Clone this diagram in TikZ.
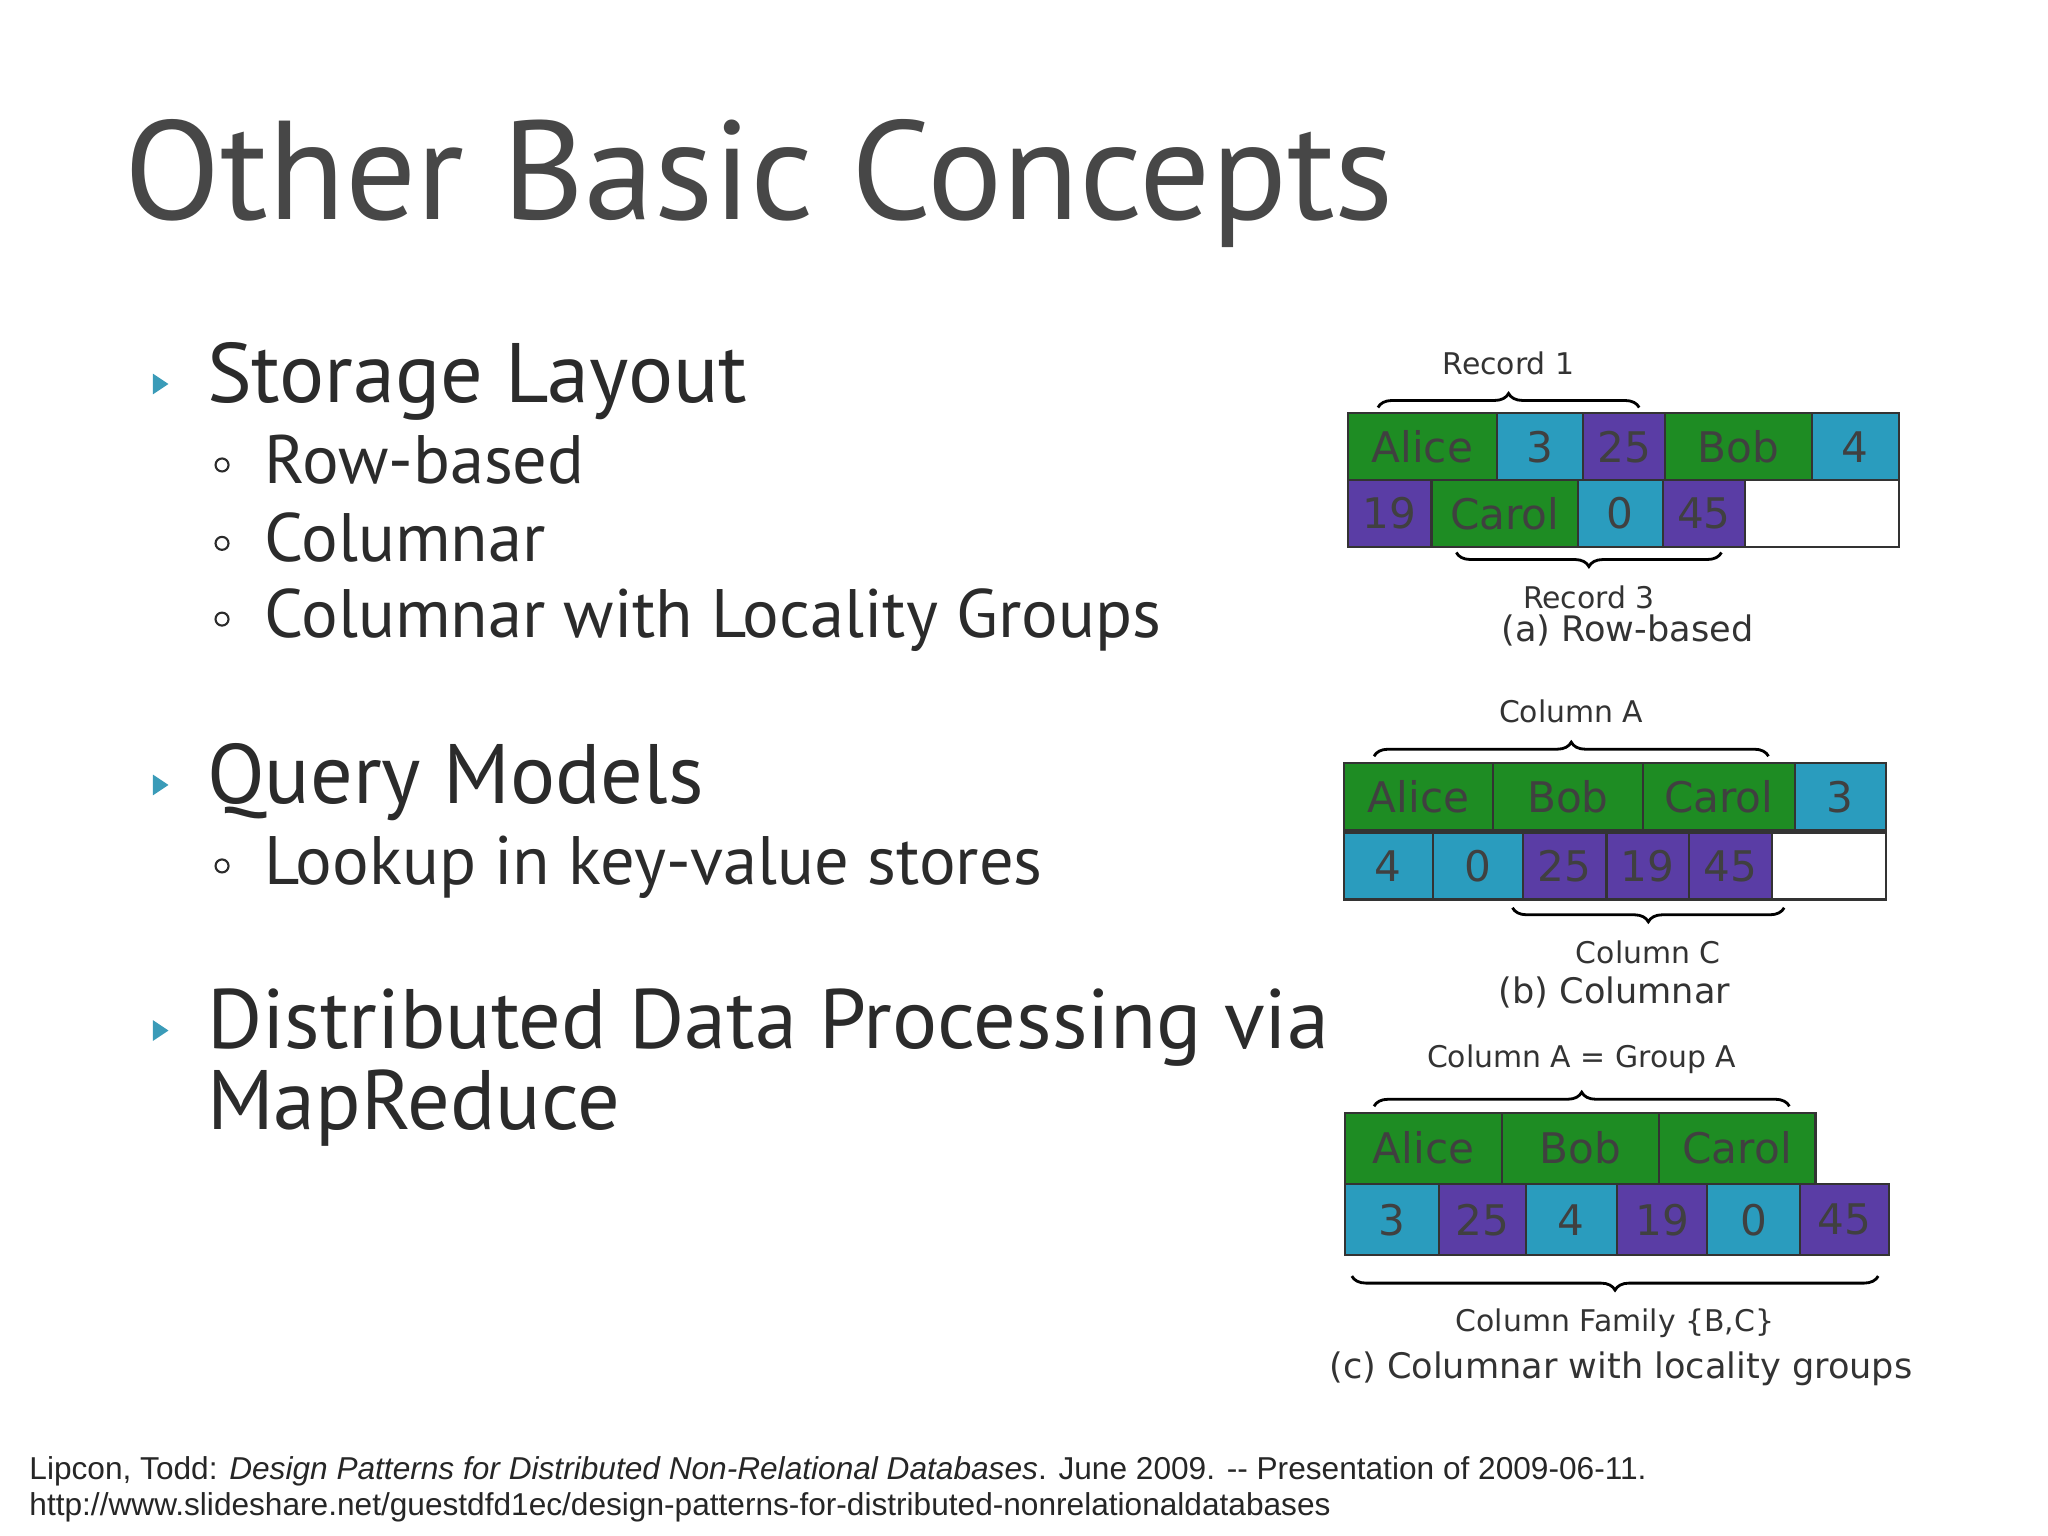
\documentclass[tikz,border=0pt]{standalone}
\usepackage{fontspec}
\setmainfont{PT Sans}
\newfontfamily\figfont{DejaVu Sans}
\newfontfamily\reffont{Liberation Sans}
\usetikzlibrary{decorations.pathreplacing}
\definecolor{cgreen}{HTML}{1E8C23}
\definecolor{cteal}{HTML}{2A9CBE}
\definecolor{cpurple}{HTML}{5A3DA5}
\definecolor{ctext}{HTML}{2B2B2B}
\definecolor{cbullet}{HTML}{3A9BB8}
\begin{document}
\begin{tikzpicture}[x=0.01306cm, y=-0.01306cm,
      cell/.style={draw=black!80,line width=0.6pt,fill=#1,inner sep=0pt,outer sep=0pt,
        minimum height=0.67cm,text=black!75,font=\figfont\fontsize{12}{12}\selectfont},
      lbl/.style={text=black!80,font=\figfont\fontsize{8.5}{9}\selectfont,inner sep=0pt},
      brc/.style={decorate,decoration={brace,amplitude=4pt},thick},
      main/.style={anchor=base west,text=ctext,inner sep=0pt},
      tri/.style={fill=cbullet,draw=none},
      dot/.style={circle,draw=ctext,line width=0.6pt,inner sep=0pt,minimum size=0.13cm}]
  \useasboundingbox (0,0) rectangle (1568,1176);
  % title
  \node[main,text=black!72,font=\fontsize{40}{40}\selectfont] (title) at (95,168) {Other Basic Concepts};
  % bullets
  \foreach \nm/\yy/\txt in {b1/308/Storage Layout, b2/615/Query Models, b3/803/Distributed Data Processing via}{
    \node[main,font=\fontsize{24}{24}\selectfont] (\nm) at (158,\yy) {\txt};
    \fill[tri] (117,\yy-22) -- (129,\yy-14) -- (117,\yy-6) -- cycle;
  }
  \node[main,font=\fontsize{24}{24}\selectfont] (b3b) at (158,865) {MapReduce};
  \foreach \nm/\yy/\txt in {s1/370/Row-based, s2/430/Columnar, s3/488/Columnar with Locality Groups, s4/677/Lookup in key-value stores}{
    \node[main,font=\fontsize{19.5}{20}\selectfont] (\nm) at (202,\yy) {\txt};
    \node[dot] (d\nm) at (170,\yy-14) {};
  }
  % (a) row-based
  \foreach \i/\xa/\xb/\yy/\c/\t in {1/1032/1146/342/cgreen/Alice, 2/1146/1212/342/cteal/3, 3/1212/1275/342/cpurple/25,
      4/1275/1387/342/cgreen/Bob, 5/1387/1454/342/cteal/4, 6/1032/1096/393/cpurple/19, 7/1096/1208/393/cgreen/Carol,
      8/1208/1273/393/cteal/0, 9/1273/1336/393/cpurple/45, 10/1336/1454/393/white/{}}{
    \pgfmathsetmacro\w{(\xb-\xa)*0.01306}
    \node[cell=\c,minimum width=\w cm] (a\i) at ({(\xa+\xb)/2},\yy) {\t};
  }
  \coordinate (ra1) at (1055,312); \coordinate (ra2) at (1255,312);
  \coordinate (ra3) at (1115,423); \coordinate (ra4) at (1318,423);
  \draw[brc] (ra1) -- (ra2) node[lbl,midway,above=9pt] (rec1) {Record 1};
  \draw[brc] (ra4) -- (ra3) node[lbl,midway,below=9pt] (rec3) {Record 3};
  \node[lbl,font=\figfont\fontsize{10}{10}\selectfont] (capa) at (1246,483) {(a) Row-based};
  % (b) columnar
  \foreach \i/\xa/\xb/\yy/\c/\t in {1/1029/1143/610/cgreen/Alice, 2/1143/1258/610/cgreen/Bob, 3/1258/1374/610/cgreen/Carol,
      4/1374/1444/610/cteal/3, 5/1029/1097/663/cteal/4, 6/1097/1166/663/cteal/0, 7/1166/1230/663/cpurple/25,
      8/1230/1293/663/cpurple/19, 9/1293/1357/663/cpurple/45, 10/1357/1444/663/white/{}}{
    \pgfmathsetmacro\w{(\xb-\xa)*0.01306}
    \node[cell=\c,minimum width=\w cm] (b\i) at ({(\xa+\xb)/2},\yy) {\t};
  }
  \coordinate (rb1) at (1052,579); \coordinate (rb2) at (1354,579);
  \coordinate (rb3) at (1158,695); \coordinate (rb4) at (1366,695);
  \draw[brc] (rb1) -- (rb2) node[lbl,midway,above=9pt] (colA) {Column A};
  \draw[brc] (rb4) -- (rb3) node[lbl,midway,below=9pt] (colC) {Column C};
  \node[lbl,font=\figfont\fontsize{10}{10}\selectfont] (capb) at (1236,760) {(b) Columnar};
  % (c) locality groups
  \foreach \i/\xa/\xb/\yy/\c/\t in {1/1030/1150/879/cgreen/Alice, 2/1150/1270/879/cgreen/Bob, 3/1270/1390/879/cgreen/Carol,
      4/1030/1102/934/cteal/3, 5/1102/1168/934/cpurple/25, 6/1168/1238/934/cteal/4, 7/1238/1307/934/cpurple/19,
      8/1307/1378/934/cteal/0, 9/1378/1446/934/cpurple/45}{
    \pgfmathsetmacro\w{(\xb-\xa)*0.01306}
    \node[cell=\c,minimum width=\w cm,minimum height=0.71cm] (c\i) at ({(\xa+\xb)/2},\yy) {\t};
  }
  \coordinate (rc1) at (1052,847); \coordinate (rc2) at (1370,847);
  \coordinate (rc3) at (1035,977); \coordinate (rc4) at (1438,977);
  \draw[brc] (rc1) -- (rc2) node[lbl,midway,above=9pt] (grpA) {Column A = Group A};
  \draw[brc] (rc4) -- (rc3) node[lbl,midway,below=9pt] (fam) {Column Family \{B,C\}};
  \node[lbl,font=\figfont\fontsize{10}{10}\selectfont] (capc) at (1241,1048) {(c) Columnar with locality groups};
  % reference
  \node[main,text=black!85,font=\reffont\fontsize{9}{9}\selectfont] (ref1) at (22,1133)
    {Lipcon, Todd: \textit{Design Patterns for Distributed Non-Relational Databases}. June 2009. -- Presentation of 2009-06-11.};
  \node[main,text=black!85,font=\reffont\fontsize{9}{9}\selectfont] (ref2) at (22,1160)
    {http://www.slideshare.net/guestdfd1ec/design-patterns-for-distributed-nonrelationaldatabases};
\end{tikzpicture}
\end{document}
